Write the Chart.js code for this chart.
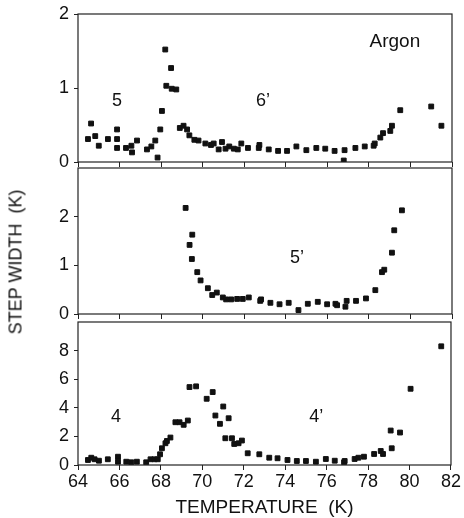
<!DOCTYPE html>
<html>
<head>
<meta charset="utf-8">
<script src="https://cdn.jsdelivr.net/npm/chart.js@4"></script>
<style>
  html, body { margin: 0; padding: 0; background: #fff; overflow: hidden; }
  body { width: 464px; height: 518px; position: relative; }
  .panel { position: absolute; left: 0; width: 464px; }
  #yTitle {
    position: absolute; left: 16px; top: 262px;
    transform: translate(-50%, -50%) rotate(-90deg);
    font: 18px "Liberation Sans", Arial, sans-serif; white-space: pre; color: #111;
  }
</style>
</head>
<body>
<div class="panel" style="top:0;height:176px"><canvas id="p1"></canvas></div>
<div class="panel" style="top:154px;height:174px"><canvas id="p2"></canvas></div>
<div class="panel" style="top:308px;height:210px"><canvas id="p3"></canvas></div>
<div id="yTitle">STEP WIDTH  (K)</div>
<script>
// top panel: 6' step
const temp6 = [64.48, 64.63, 64.83, 65.0, 65.44, 65.88, 65.88, 65.88, 66.31, 66.57, 66.6, 66.84, 67.32, 67.53, 67.72, 67.83, 67.96, 68.04, 68.2, 68.48, 68.25, 68.51, 68.73, 68.9, 69.08, 69.25, 69.36, 69.6, 69.8, 70.13, 70.4, 70.53, 70.77, 70.93, 71.1, 71.28, 71.5, 71.69, 71.86, 72.18, 72.7, 72.73, 73.18, 73.63, 74.06, 74.51, 74.99, 75.47, 75.9, 76.35, 76.79, 76.83, 77.35, 77.8, 78.23, 78.28, 78.55, 78.68, 79.03, 79.11, 79.51, 81.0, 81.49];
const width6 = [0.31, 0.52, 0.35, 0.22, 0.31, 0.44, 0.31, 0.19, 0.19, 0.22, 0.13, 0.29, 0.17, 0.21, 0.29, 0.06, 0.44, 0.69, 1.52, 1.27, 1.03, 0.99, 0.98, 0.46, 0.49, 0.44, 0.36, 0.30, 0.29, 0.25, 0.23, 0.25, 0.17, 0.27, 0.18, 0.21, 0.18, 0.17, 0.25, 0.19, 0.19, 0.23, 0.17, 0.15, 0.15, 0.21, 0.16, 0.19, 0.18, 0.15, 0.02, 0.16, 0.19, 0.21, 0.22, 0.25, 0.33, 0.39, 0.42, 0.49, 0.70, 0.75, 0.49];

// middle panel: 5' step
const temp5 = [69.18, 69.37, 69.5, 69.48, 69.74, 69.9, 70.25, 70.46, 70.68, 70.97, 71.13, 71.37, 71.66, 71.93, 72.22, 72.77, 72.81, 73.26, 73.7, 74.14, 74.61, 75.06, 75.54, 75.99, 76.39, 76.47, 76.87, 76.93, 77.38, 77.86, 78.31, 78.63, 78.74, 79.11, 79.22, 79.59];
const width5 = [2.18, 1.42, 1.63, 1.13, 0.86, 0.69, 0.53, 0.39, 0.44, 0.34, 0.30, 0.30, 0.31, 0.31, 0.34, 0.27, 0.30, 0.23, 0.20, 0.23, 0.08, 0.21, 0.25, 0.20, 0.21, 0.18, 0.15, 0.27, 0.27, 0.32, 0.49, 0.86, 0.91, 1.26, 1.72, 2.13];

// bottom panel: 4' step
const temp4 = [64.48, 64.64, 64.8, 65.01, 65.44, 65.93, 65.93, 66.33, 66.57, 66.84, 67.29, 67.5, 67.69, 67.85, 67.96, 68.05, 68.22, 68.29, 68.46, 68.7, 68.9, 69.1, 69.3, 69.38, 69.7, 70.21, 70.5, 70.63, 70.85, 71.01, 71.11, 71.27, 71.43, 71.54, 71.75, 71.91, 72.19, 72.75, 73.23, 73.63, 74.11, 74.56, 75.0, 75.48, 75.96, 76.39, 76.84, 76.87, 77.35, 77.53, 77.8, 78.29, 78.61, 78.72, 79.09, 79.14, 79.54, 80.05, 81.53];
const width4 = [0.35, 0.51, 0.40, 0.30, 0.40, 0.58, 0.23, 0.23, 0.19, 0.23, 0.19, 0.40, 0.40, 0.40, 0.75, 1.17, 1.52, 1.68, 1.92, 2.99, 2.99, 2.81, 3.11, 5.45, 5.5, 4.63, 5.1, 3.46, 2.88, 4.09, 1.87, 3.27, 1.87, 1.47, 1.52, 1.71, 0.82, 0.75, 0.51, 0.47, 0.35, 0.28, 0.28, 0.23, 0.42, 0.30, 0.19, 0.28, 0.42, 0.51, 0.58, 0.77, 0.98, 0.77, 2.41, 1.17, 2.27, 5.33, 8.3];

const xTicks = [64, 66, 68, 70, 72, 74, 76, 78, 80, 82];
const yTicks1 = [0, 1, 2];
const yTicks2 = [0, 1, 2];
const yTicks3 = [0, 2, 4, 6, 8];

const notes1 = [{ text: 'Argon', x: 79.25, y: 1.62, size: 19 }, { text: '5', x: 65.88, y: 0.83, size: 18 }, { text: '6\u2019', x: 72.9, y: 0.83, size: 18 }];
const notes2 = [{ text: '5\u2019', x: 74.54, y: 1.16, size: 18 }];
const notes3 = [{ text: '4', x: 65.83, y: 3.33, size: 18 }, { text: '4\u2019', x: 75.5, y: 3.33, size: 18 }];

const FONT = '"Liberation Sans", Arial, sans-serif';
Chart.defaults.font.family = FONT;
Chart.defaults.color = '#111';

const framePlugin = {
    id: 'frame',
    afterDraw(chart) {
        const a = chart.chartArea;
        const ctx = chart.ctx;
        ctx.save();
        ctx.strokeStyle = '#222';
        ctx.lineWidth = 1.2;
        ctx.strokeRect(a.left, a.top, a.right - a.left, a.bottom - a.top);
        const notes = chart.options.plugins.frame.notes || [];
        ctx.fillStyle = '#111';
        ctx.textAlign = 'center';
        ctx.textBaseline = 'middle';
        notes.forEach(n => {
            ctx.font = n.size + 'px ' + FONT;
            ctx.fillText(n.text, chart.scales.x.getPixelForValue(n.x), chart.scales.y.getPixelForValue(n.y));
        });
        ctx.restore();
    }
};

function makePanel(id, xs, ys, yMax, yList, notes, bottom) {
    const pts = xs.map((x, i) => ({ x: x, y: ys[i] }));
    return new Chart(document.getElementById(id), {
        type: 'scatter',
        data: {
            datasets: [{
                data: pts,
                backgroundColor: '#111',
                borderColor: '#111',
                pointStyle: 'rect',
                pointRadius: 3.4,
                pointHoverRadius: 3.4
            }]
        },
        options: {
            responsive: true,
            maintainAspectRatio: false,
            animation: false,
            events: [],
            layout: { padding: { top: 4, bottom: bottom ? 0 : 4, left: 0, right: bottom ? 0 : 12 } },
            plugins: { legend: { display: false }, tooltip: { enabled: false }, frame: { notes: notes } },
            scales: {
                x: {
                    type: 'linear',
                    min: 64,
                    max: 82,
                    afterBuildTicks: s => { s.ticks = xTicks.map(v => ({ value: v })); },
                    afterFit: s => { s.height = bottom ? 53 : 6; },
                    border: { display: false },
                    grid: { drawOnChartArea: false, drawTicks: true, tickLength: 5, color: '#222' },
                    ticks: { display: bottom, padding: 3, font: { size: 18, lineHeight: 1 }, color: '#111' },
                    title: {
                        display: bottom,
                        text: 'TEMPERATURE  (K)',
                        font: { size: 19, lineHeight: 1 },
                        padding: { top: 0, bottom: 1 },
                        color: '#111'
                    }
                },
                y: {
                    min: 0,
                    max: yMax,
                    afterBuildTicks: s => { s.ticks = yList.map(v => ({ value: v })); },
                    afterFit: s => { s.width = 78; },
                    border: { display: false },
                    grid: { drawOnChartArea: false, drawTicks: true, tickLength: 4, color: '#222' },
                    ticks: { padding: 5, font: { size: 18, lineHeight: 1 }, color: '#111' }
                }
            }
        },
        plugins: [framePlugin]
    });
}

makePanel('p1', temp6, width6, 2, yTicks1, notes1, false);
makePanel('p2', temp5, width5, 3, yTicks2, notes2, false);
makePanel('p3', temp4, width4, 10, yTicks3, notes3, true);
</script>
</body>
</html>
